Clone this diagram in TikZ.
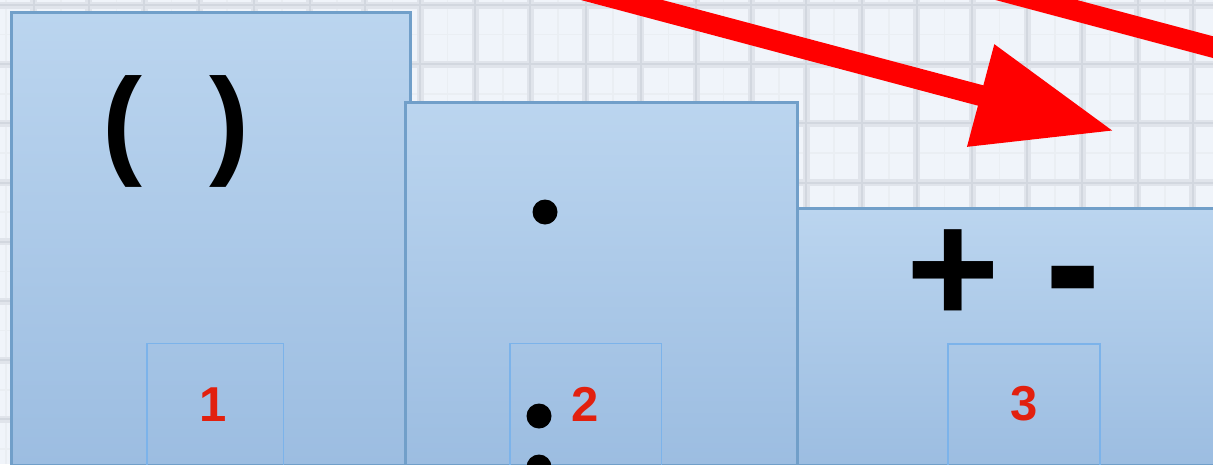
\documentclass[tikz,border=0pt]{standalone}
\usepackage{fontspec}
\setmainfont{Liberation Sans}
\usetikzlibrary{arrows.meta}
\definecolor{gridbg}{HTML}{F0F4FA}
\definecolor{gridsoft}{HTML}{E0E4EB}
\definecolor{gridline}{HTML}{D2D7DF}
\definecolor{gridminor}{HTML}{EAEEF3}
\definecolor{boxtop}{HTML}{BBD5EF}
\definecolor{boxbot}{HTML}{9CBDE1}
\definecolor{boxedge}{HTML}{719FC9}
\definecolor{inneredge}{HTML}{7CB3EA}
\definecolor{numred}{HTML}{E2200E}
\definecolor{arrowred}{HTML}{FF0000}
\begin{document}
\begin{tikzpicture}[x=1pt,y=-1pt,
  podium/.style={draw=boxedge,line width=3pt,top color=boxtop,bottom color=boxbot},
  slot/.style={draw=inneredge,line width=1.8pt},
  num/.style={text=numred,font=\fontsize{49}{49}\selectfont\bfseries,inner sep=0pt},
  sym/.style={inner sep=0pt,anchor=base},
  dotmark/.style={circle,fill=black,inner sep=0pt,minimum size=25pt},
  bigarrow/.style={draw=arrowred,line width=21pt,-{Triangle[length=138pt,width=100pt]}}]
\useasboundingbox (0,0) rectangle (1213,464);
\clip (0,0) rectangle (1213,464);
% background grid
\fill[gridbg] (0,0) rectangle (1213,464);
\foreach \k in {-8,...,14} \draw[gridminor,line width=1.5pt] ({447.6+55.2*\k},0) -- ({447.6+55.2*\k},464);
\foreach \k in {-1,...,8} \draw[gridminor,line width=1.5pt] (0,{34.6+59.2*\k}) -- (1213,{34.6+59.2*\k});
\foreach \k in {-7,...,14} \draw[gridsoft,line width=7pt] ({420+55.2*\k},0) -- ({420+55.2*\k},464);
\foreach \k in {0,...,8} \draw[gridsoft,line width=7pt] (0,{5+59.2*\k}) -- (1213,{5+59.2*\k});
\foreach \k in {-7,...,14} \draw[gridline,line width=2pt] ({420+55.2*\k},0) -- ({420+55.2*\k},464);
\foreach \k in {0,...,8} \draw[gridline,line width=2pt] (0,{5+59.2*\k}) -- (1213,{5+59.2*\k});
% podium boxes
\path[podium] (11,12) rectangle (410,465);
\path[podium] (405,102) rectangle (797.5,465);
\path[podium] (797,208) rectangle (1225,465);
% inner slots
\draw[slot] (147,343.5) rectangle (283.5,466);
\draw[slot] (510,343.5) rectangle (661.5,466);
\draw[slot] (948,344) rectangle (1100,466);
% symbols
\node[sym,font=\fontsize{120}{120}\selectfont\bfseries] (paren) at (176,162) {(\ \ )};
\node[sym,anchor=base west,font=\fontsize{160}{160}\selectfont\bfseries] (pm) at (906,323.5) {+ \hspace{1.5pt}\raisebox{-2.5pt}{\scalebox{1.04}[1.18]{-}}};
\node[dotmark] (d1) at (545,212) {};
\node[dotmark] (d2) at (539,416) {};
\node[dotmark] (d3) at (539,467) {};
% numbers
\node[num] (n1) at (213.5,404.5) {1};
\node[num] (n2) at (585,404.5) {2};
\node[num] (n3) at (1024,404) {3};
% arrows
\coordinate (a1s) at (400,-59);
\coordinate (a1e) at (1114,131);
\coordinate (a2s) at (800,-63);
\coordinate (a2e) at (1400,97);
\draw[bigarrow] (a1s) -- (a1e);
\draw[bigarrow] (a2s) -- (a2e);
\end{tikzpicture}
\end{document}
